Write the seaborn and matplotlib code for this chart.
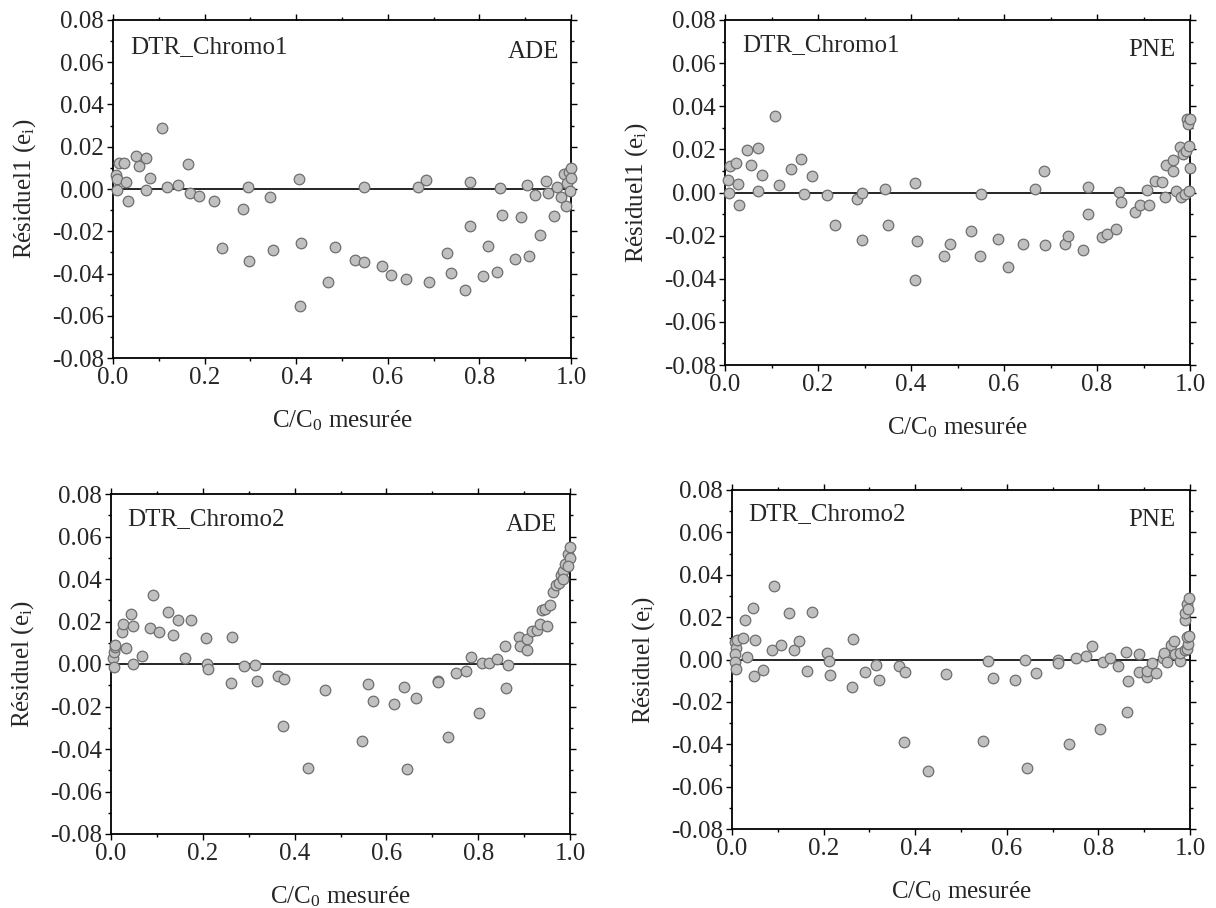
import numpy as np
import pandas as pd
import matplotlib
matplotlib.use("Agg")
import matplotlib.pyplot as plt
import seaborn as sns
from matplotlib.ticker import MultipleLocator, FormatStrFormatter

# ---- data ----
# DTR_Chromo1, ADE
x_c1_ade = [0.006, 0.009, 0.009, 0.013, 0.025, 0.029, 0.032, 0.050, 0.056, 0.071,
            0.080, 0.072, 0.108, 0.117, 0.143, 0.164, 0.168, 0.188, 0.220, 0.237,
            0.284, 0.295, 0.296, 0.343, 0.350, 0.407, 0.411, 0.409, 0.470, 0.484,
            0.528, 0.548, 0.548, 0.588, 0.607, 0.639, 0.666, 0.684, 0.689, 0.730,
            0.737, 0.768, 0.779, 0.779, 0.808, 0.818, 0.838, 0.846, 0.850, 0.878,
            0.890, 0.905, 0.909, 0.921, 0.932, 0.945, 0.950, 0.962, 0.970, 0.978,
            0.984, 0.988, 0.992, 0.995, 0.998, 1.000, 1.000]
y_c1_ade = [0.0065, 0.0047, -0.0003, 0.0123, 0.0123, 0.0031, -0.0057, 0.0157, 0.0110, 0.0146,
            0.0052, -0.0005, 0.0287, 0.0011, 0.0017, 0.0120, -0.0017, -0.0033, -0.0058, -0.0280,
            -0.0094, 0.0008, -0.0342, -0.0036, -0.0291, 0.0049, -0.0255, -0.0554, -0.0441, -0.0276,
            -0.0337, -0.0346, 0.0008, -0.0364, -0.0408, -0.0427, 0.0011, 0.0041, -0.0441, -0.0301,
            -0.0397, -0.0479, 0.0031, -0.0173, -0.0414, -0.0272, -0.0391, 0.0005, -0.0123, -0.0331,
            -0.0134, 0.0017, -0.0315, -0.0030, -0.0216, 0.0040, -0.0020, -0.0130, 0.0010, -0.0040,
            0.0070, -0.0080, 0.0030, 0.0080, -0.0010, 0.0100, 0.0050]

# DTR_Chromo1, PNE
x_c1_pne = [0.007, 0.009, 0.011, 0.024, 0.028, 0.030, 0.048, 0.055, 0.070, 0.070,
            0.080, 0.108, 0.116, 0.142, 0.164, 0.169, 0.188, 0.220, 0.237, 0.284,
            0.295, 0.295, 0.344, 0.350, 0.408, 0.412, 0.409, 0.471, 0.484, 0.529,
            0.548, 0.550, 0.588, 0.608, 0.641, 0.667, 0.685, 0.689, 0.731, 0.738,
            0.769, 0.781, 0.781, 0.810, 0.821, 0.841, 0.848, 0.852, 0.881, 0.893,
            0.907, 0.911, 0.925, 0.939, 0.946, 0.948, 0.964, 0.964, 0.969, 0.978,
            0.980, 0.985, 0.992, 0.989, 0.997, 0.999, 0.994, 0.996, 0.999, 0.998]
y_c1_pne = [0.0060, 0.0000, 0.0122, 0.0138, 0.0040, -0.0056, 0.0198, 0.0127, 0.0205, 0.0006,
            0.0079, 0.0353, 0.0034, 0.0107, 0.0157, -0.0008, 0.0078, -0.0011, -0.0153, -0.0031,
            -0.0003, -0.0220, 0.0017, -0.0153, 0.0043, -0.0226, -0.0406, -0.0296, -0.0237, -0.0180,
            -0.0295, -0.0006, -0.0214, -0.0347, -0.0240, 0.0014, 0.0099, -0.0242, -0.0240, -0.0202,
            -0.0268, 0.0026, -0.0099, -0.0206, -0.0191, -0.0167, 0.0003, -0.0045, -0.0091, -0.0059,
            0.0012, -0.0060, 0.0053, 0.0050, -0.0019, 0.0127, 0.0102, 0.0153, 0.0006, 0.0211,
            -0.0020, 0.0177, 0.0192, -0.0006, 0.0215, 0.0115, 0.0340, 0.0316, 0.0343, 0.0006]

# DTR_Chromo2, ADE
x_c2_ade = [0.004, 0.007, 0.007, 0.009, 0.009, 0.024, 0.027, 0.032, 0.044, 0.047,
            0.049, 0.067, 0.086, 0.092, 0.105, 0.124, 0.134, 0.145, 0.162, 0.174,
            0.207, 0.209, 0.211, 0.262, 0.264, 0.289, 0.314, 0.319, 0.364, 0.376,
            0.374, 0.429, 0.467, 0.547, 0.559, 0.570, 0.617, 0.639, 0.645, 0.665,
            0.712, 0.713, 0.734, 0.752, 0.774, 0.784, 0.802, 0.808, 0.824, 0.842,
            0.859, 0.861, 0.864, 0.889, 0.890, 0.906, 0.906, 0.917, 0.929, 0.939,
            0.935, 0.945, 0.950, 0.956, 0.962, 0.970, 0.975, 0.980, 0.985, 0.990,
            0.995, 1.000, 1.000, 0.995, 0.985]
y_c2_ade = [0.0027, -0.0013, 0.0058, 0.0079, 0.0090, 0.0149, 0.0186, 0.0075, 0.0234, -0.0002,
            0.0179, 0.0038, 0.0168, 0.0327, 0.0149, 0.0244, 0.0137, 0.0208, 0.0030, 0.0209,
            0.0124, 0.0002, -0.0022, -0.0090, 0.0129, -0.0011, -0.0005, -0.0080, -0.0057, -0.0071,
            -0.0291, -0.0491, -0.0121, -0.0362, -0.0096, -0.0175, -0.0189, -0.0108, -0.0495, -0.0162,
            -0.0079, -0.0083, -0.0343, -0.0044, -0.0035, 0.0033, -0.0230, 0.0005, 0.0005, 0.0025,
            0.0083, -0.0115, -0.0003, 0.0126, 0.0083, 0.0120, 0.0068, 0.0157, 0.0162, 0.0256,
            0.0190, 0.0260, 0.0180, 0.0280, 0.0340, 0.0370, 0.0380, 0.0420, 0.0440, 0.0470,
            0.0520, 0.0550, 0.0500, 0.0460, 0.0400]

# DTR_Chromo2, PNE
x_c2_pne = [0.007, 0.009, 0.006, 0.007, 0.009, 0.011, 0.025, 0.028, 0.033, 0.046,
            0.049, 0.050, 0.068, 0.088, 0.092, 0.106, 0.125, 0.135, 0.146, 0.163,
            0.175, 0.208, 0.211, 0.213, 0.261, 0.265, 0.290, 0.315, 0.320, 0.364,
            0.377, 0.375, 0.429, 0.467, 0.547, 0.560, 0.570, 0.617, 0.640, 0.645,
            0.664, 0.712, 0.712, 0.735, 0.752, 0.774, 0.785, 0.803, 0.809, 0.825,
            0.842, 0.860, 0.862, 0.865, 0.889, 0.888, 0.907, 0.907, 0.916, 0.926,
            0.941, 0.943, 0.950, 0.958, 0.964, 0.968, 0.979, 0.979, 0.988, 0.993,
            0.995, 0.994, 0.990, 0.988, 0.993, 0.995, 0.997, 0.997]
y_c2_pne = [0.0082, 0.0055, 0.0027, -0.0013, -0.0046, 0.0090, 0.0101, 0.0185, 0.0014, 0.0241,
            -0.0080, 0.0093, -0.0049, 0.0047, 0.0345, 0.0069, 0.0218, 0.0047, 0.0087, -0.0052,
            0.0226, 0.0032, -0.0008, -0.0071, -0.0129, 0.0098, -0.0060, -0.0024, -0.0099, -0.0033,
            -0.0060, -0.0390, -0.0527, -0.0068, -0.0385, -0.0005, -0.0085, -0.0099, -0.0002, -0.0514,
            -0.0066, 0.0000, -0.0017, -0.0401, 0.0006, 0.0017, 0.0062, -0.0326, -0.0013, 0.0008,
            -0.0030, 0.0035, -0.0246, -0.0103, 0.0024, -0.0057, -0.0084, -0.0052, -0.0017, -0.0065,
            0.0008, 0.0030, -0.0013, 0.0069, 0.0085, 0.0024, -0.0008, 0.0032, 0.0043, 0.0050,
            0.0074, 0.0106, 0.0188, 0.0221, 0.0260, 0.0240, 0.0290, 0.0110]

panels = [
    (x_c1_ade, y_c1_ade, "DTR_Chromo1", "ADE", "Résiduel1 (e$_i$)"),
    (x_c1_pne, y_c1_pne, "DTR_Chromo1", "PNE", "Résiduel1 (e$_i$)"),
    (x_c2_ade, y_c2_ade, "DTR_Chromo2", "ADE", "Résiduel (e$_i$)"),
    (x_c2_pne, y_c2_pne, "DTR_Chromo2", "PNE", "Résiduel (e$_i$)"),
]

# axes boxes in pixels: left, right, top, bottom
W, H = 1216, 908
boxes = [
    (113, 571, 20, 358),
    (725, 1190, 20, 365),
    (111, 570, 494, 834),
    (732, 1190, 490, 829),
]
# text offsets in px: (left label dx, dy baseline), (right label dx from right, dy)
txt_off = [
    ((17, 33), (12, 38)),
    ((17, 31), (15, 36)),
    ((16, 31), (13, 37)),
    ((16, 30), (15, 36)),
]

sns.set_style("ticks")
plt.rcParams["font.family"] = ["Liberation Serif", "DejaVu Serif"]
plt.rcParams["mathtext.default"] = "regular"
plt.rcParams["axes.unicode_minus"] = False
fs = 18

fig = plt.figure(figsize=(W / 100, H / 100), dpi=100)

for (xs, ys, name, model, ylab), (l, r, t, b), (o1, o2) in zip(panels, boxes, txt_off):
    ax = fig.add_axes([l / W, 1 - b / H, (r - l) / W, (b - t) / H])
    df = pd.DataFrame({"x": xs, "y": ys})
    ax.axhline(0, color="black", lw=1.2, zorder=1)
    sns.scatterplot(data=df, x="x", y="y", ax=ax, s=58, color="#c0c0c0",
                    edgecolor="#6e6e6e", linewidth=0.9, zorder=3, clip_on=False)
    ax.set_xlim(0, 1.0)
    ax.set_ylim(-0.08, 0.08)
    ax.xaxis.set_major_locator(MultipleLocator(0.2))
    ax.xaxis.set_minor_locator(MultipleLocator(0.1))
    ax.yaxis.set_major_locator(MultipleLocator(0.02))
    ax.yaxis.set_minor_locator(MultipleLocator(0.01))
    ax.xaxis.set_major_formatter(FormatStrFormatter("%.1f"))
    ax.yaxis.set_major_formatter(FormatStrFormatter("%.2f"))
    ax.tick_params(which="both", direction="out", top=True, right=True,
                   labelsize=fs, width=1.0, color="black")
    ax.tick_params(which="major", length=4.5, pad=2)
    ax.tick_params(which="minor", length=2.5)
    for sp in ax.spines.values():
        sp.set_linewidth(1.3)
        sp.set_color("black")
    ax.set_xlabel("C/C$_0$ mesurée", fontsize=fs, labelpad=14)
    ax.set_ylabel(ylab, fontsize=fs, labelpad=10)
    ax.annotate(name, xy=(0, 1), xycoords="axes fraction",
                xytext=(o1[0] * 0.72, -o1[1] * 0.72), textcoords="offset points",
                ha="left", va="baseline", fontsize=fs)
    ax.annotate(model, xy=(1, 1), xycoords="axes fraction",
                xytext=(-o2[0] * 0.72, -o2[1] * 0.72), textcoords="offset points",
                ha="right", va="baseline", fontsize=fs)

fig.savefig("out.png", dpi=100)
